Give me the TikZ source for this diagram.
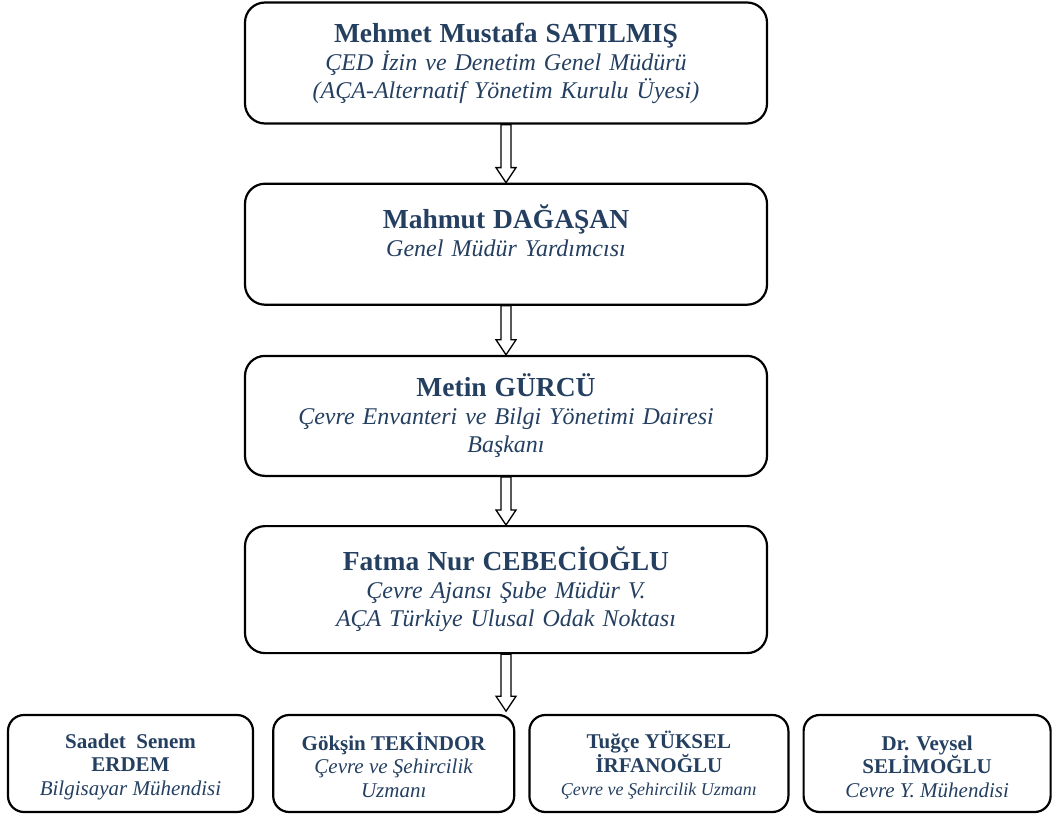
\documentclass[tikz,border=0pt]{standalone}
\usepackage{fontspec}
\setmainfont{Liberation Serif}
\usetikzlibrary{positioning,calc,backgrounds}
\definecolor{namecol}{HTML}{243F60}
\newcommand\topgap{\rule{0pt}{21pt}}
\begin{document}
\begin{tikzpicture}[x=1pt,y=1pt, line join=round,
    bigbox/.style={draw, line width=2.2pt, rounded corners=20pt, minimum width=522pt, minimum height=121pt,
      text width=500pt, align=center, text=namecol, inner sep=0pt, font=\fontsize{24}{28}\selectfont},
    smallbox/.style={draw, line width=2.2pt, rounded corners=16pt, minimum height=97pt, inner sep=0pt,
      align=center, text=namecol, font=\fontsize{21}{23.5}\selectfont},
    flow/.style={draw, line width=1.3pt, fill=white, to path={let \p1=(\tikztostart), \p2=(\tikztotarget) in
      (\x1-5pt,\y1) -- (\x1-5pt,\y2+15pt) -- (\x1-10pt,\y2+15pt) -- (\x1,\y2) -- (\x1+10pt,\y2+15pt)
      -- (\x1+5pt,\y2+15pt) -- (\x1+5pt,\y1) -- cycle}}]
    \useasboundingbox (0,0) rectangle (1057,-816);
    \node[bigbox] (director) at (506,-63) {{\bfseries\fontsize{27.5}{28}\selectfont Mehmet Mustafa SATILMIŞ}\\
      \textit{ÇED İzin ve Denetim Genel Müdürü}\\ \textit{(AÇA-Alternatif Yönetim Kurulu Üyesi)}};
    \node[bigbox, below=58pt of director] (deputy) {{\bfseries\fontsize{27.5}{28}\selectfont Mahmut DAĞAŞAN}\\
      \textit{Genel Müdür Yardımcısı}\\ \mbox{}};
    \node[bigbox, below=49pt of deputy, minimum height=120pt] (head) {{\bfseries\fontsize{27.5}{28}\selectfont Metin GÜRCÜ}\\
      \textit{Çevre Envanteri ve Bilgi Yönetimi Dairesi}\\ \textit{Başkanı}};
    \node[bigbox, below=48pt of head, minimum height=127pt] (chief) {{\bfseries\fontsize{27.5}{28}\selectfont Fatma Nur CEBECİOĞLU}\\
      \textit{Çevre Ajansı Şube Müdür V.}\\ \textit{AÇA Türkiye Ulusal Odak Noktası}};
    \coordinate[below=57pt of chief.south] (hub);
    \node[smallbox, minimum width=245pt] (erdem) at (130.5,-763.5) {\topgap\textbf{Saadet\ \ Senem}\\ \textbf{ERDEM}\\
      \textit{Bilgisayar Mühendisi}};
    \node[smallbox, minimum width=241pt, right=18pt of erdem] (tekindor) {\topgap\textbf{Gökşin TEKİNDOR}\\
      \textit{Çevre ve Şehircilik}\\ \textit{Uzmanı}};
    \node[smallbox, minimum width=259pt, right=13pt of tekindor] (irfanoglu) {\topgap\textbf{Tuğçe YÜKSEL}\\ \textbf{İRFANOĞLU}\\
      {\fontsize{18}{23.5}\selectfont\itshape Çevre ve Şehircilik Uzmanı}};
    \node[smallbox, minimum width=247pt, right=13pt of irfanoglu] (selimoglu) {\topgap\textbf{Dr. Veysel}\\ \textbf{SELİMOĞLU}\\
      \textit{Cevre Y. Mühendisi}};
    \begin{scope}[on background layer]
      \foreach \a/\b in {director/deputy, deputy/head, head/chief}
        \draw[flow] (\a.south) to (\b.north);
      \draw[flow] (chief.south) to (hub);
    \end{scope}
\end{tikzpicture}
\end{document}
